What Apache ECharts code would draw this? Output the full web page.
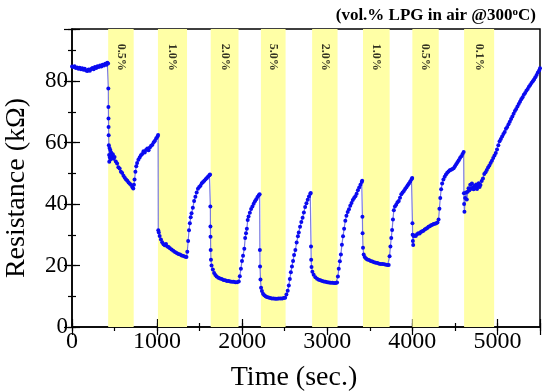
<!DOCTYPE html>
<html>
<head>
<meta charset="utf-8">
<script src="https://cdn.jsdelivr.net/npm/echarts@6/dist/echarts.min.js"></script>
<style>html,body{margin:0;padding:0;background:#fff}#c{width:545px;height:392px}</style>
</head>
<body>
<div id="c"></div>
<script>
// ---- data ----
const bandStart = [425, 1010, 1630, 2220, 2822, 3420, 4000, 4608];
const bandEnd   = [725, 1352, 1957, 2510, 3121, 3733, 4310, 4961];
const bandLabels = ['0.5%', '1.0%', '2.0%', '5.0%', '2.0%', '1.0%', '0.5%', '0.1%'];
const xTicks = [0, 1000, 2000, 3000, 4000, 5000];
const yTicks = [0, 20, 40, 60, 80];

const timeSec = [
0,15,30,45,60,75,90,105,120,135,150,165,180,195,210,225,240,255,270,285,300,315,330,345,360,375,390,405,415,424,
427,428,429,430,431,433,436,438,441,445,450,455,460,470,480,490,500,515,530,545,560,575,590,605,620,635,650,665,680,695,710,720,
728,735,745,755,765,780,795,810,825,840,855,870,885,900,915,930,945,960,975,990,1005,1012,
1014,1020,1030,1045,1060,1075,1090,1105,1120,1135,1150,1170,1190,1210,1230,1250,1270,1290,1310,1330,1345,
1355,1365,1375,1385,1395,1405,1420,1435,1450,1465,1480,1495,1510,1525,1540,1555,1570,1585,1600,1615,1622,
1626,1627,1628,1630,1633,1640,1655,1670,1685,1700,1720,1740,1760,1780,1800,1820,1840,1860,1880,1900,1920,1940,1960,
1972,1985,1998,2010,2025,2035,2045,2055,2065,2075,2090,2105,2120,2135,2150,2165,2180,2195,2205,
2208,2210,2215,2222,2232,2245,2260,2275,2290,2310,2330,2350,2370,2390,2410,2430,2450,2470,2490,2505,
2520,2535,2548,2560,2572,2585,2598,2610,2625,2640,2655,2665,2680,2695,2710,2725,2740,2755,2770,2785,2800,2806,
2809,2811,2815,2825,2840,2860,2880,2900,2920,2940,2960,2980,3000,3020,3040,3060,3080,3100,3115,
3125,3135,3148,3160,3172,3185,3198,3212,3225,3240,3255,3270,3285,3300,3315,3330,3345,3360,3375,3390,3405,3410,
3413,3415,3420,3428,3440,3455,3470,3490,3510,3530,3550,3570,3590,3610,3630,3650,3670,3690,3710,3722,
3732,3742,3752,3762,3772,3782,3795,3810,3825,3840,3855,3870,3885,3900,3915,3930,3945,3960,3975,3990,3998,
4001,4003,4006,4010,4015,4025,4040,4055,4070,4085,4100,4115,4130,4145,4160,4175,4190,4205,4220,4235,4250,4265,4280,4295,
4308,4318,4328,4338,4350,4365,4380,4395,4410,4425,4440,4455,4470,4485,4500,4515,4530,4545,4560,4575,4590,4603,
4606,4608,4612,4620,4630,4640,4650,4660,4670,4680,4690,4700,4710,4720,4730,4740,4750,4760,4770,4780,4790,4800,
4815,4830,4845,4860,4875,4890,4905,4920,4935,4950,4965,4980,4995,5010,5025,5040,5055,5070,5085,5100,5115,5130,5145,5160,
5175,5190,5205,5220,5235,5250,5265,5280,5295,5310,5325,5340,5355,5370,5385,5400,5415,5430,5445,5460,5475,5490,5500
];
const resistance = [
84.8,84.6,84.9,84.3,84.5,84.1,84.4,83.9,84.2,83.7,84.1,83.5,83.3,83.8,83.4,84.0,84.3,83.9,84.6,84.3,84.9,84.6,85.1,84.8,85.4,85.1,85.7,85.4,86.0,85.8,
77.6,71.6,67.9,65.1,62.4,59.2,56.0,53.8,58.3,55.2,57.6,54.6,56.8,55.5,56.2,54.8,55.3,53.9,53.2,52.0,51.6,50.5,50.1,49.2,48.6,48.0,47.6,47.0,46.6,46.2,45.5,45.1,
46.3,48.0,50.5,52.3,53.4,54.4,55.2,55.9,56.3,57.2,56.8,57.6,58.1,57.5,58.4,59.0,59.3,60.1,60.6,61.4,62.0,62.5,
31.5,30.8,29.6,28.5,27.6,26.9,26.6,27.0,26.2,26.0,25.6,25.2,24.8,24.4,24.1,23.8,23.6,23.3,23.1,22.9,22.8,
24.5,28.0,31.5,33.8,35.7,37.0,38.8,41.0,42.4,43.8,45.0,45.6,46.0,46.8,47.2,47.6,48.1,48.5,49.0,49.4,49.6,
39.2,32.7,29.4,25.1,21.9,20.0,18.7,17.6,16.9,16.4,16.0,15.8,15.6,15.3,15.2,15.0,15.0,14.8,14.7,14.7,14.6,14.6,14.8,
16.5,19.0,21.5,23.2,25.5,29.0,30.5,32.0,34.8,36.0,37.2,38.4,39.2,40.1,40.9,41.6,42.3,42.9,43.2,
25.1,19.7,15.5,12.8,11.7,10.8,10.3,10.0,9.8,9.6,9.4,9.3,9.3,9.2,9.2,9.3,9.3,9.3,9.4,9.5,
10.6,11.8,13.5,15.6,17.8,19.7,21.5,23.4,25.1,27.5,29.5,30.8,32.6,34.2,35.6,37.3,39.1,40.3,41.4,42.5,43.4,43.6,
26.2,21.9,19.5,18.0,17.0,16.2,15.7,15.4,15.2,15.0,14.8,14.7,14.6,14.5,14.4,14.4,14.3,14.3,14.5,
16.4,19.0,21.4,23.6,26.8,29.5,32.0,34.6,36.2,37.4,38.3,39.5,40.4,41.3,42.0,42.6,43.4,44.5,45.4,46.3,47.2,47.6,
35.9,30.5,25.8,23.6,22.8,22.3,22.0,21.8,21.5,21.3,21.1,20.9,20.8,20.6,20.5,20.5,20.4,20.3,20.2,20.2,
23.0,26.2,29.0,31.6,35.0,38.0,39.2,39.8,40.6,41.0,42.1,43.2,43.8,44.3,44.9,45.5,46.1,46.7,47.4,48.1,48.5,
33.8,30.0,28.0,26.7,29.6,29.8,29.6,30.2,30.5,30.4,30.9,31.2,31.3,31.7,32.0,32.2,32.6,32.8,33.1,33.3,33.5,33.6,33.8,34.0,
35.0,38.5,42.0,44.8,46.7,48.0,48.9,49.6,50.2,50.6,51.0,51.2,51.4,51.7,52.3,53.0,53.6,54.3,55.0,55.6,56.3,57.0,
43.5,40.0,37.5,42.0,43.8,41.5,44.0,45.2,44.5,46.3,45.0,46.7,45.3,44.8,46.0,45.2,46.4,44.9,45.8,46.8,45.6,46.2,
47.5,48.3,49.8,50.4,51.1,51.9,52.6,53.4,54.1,55.0,55.8,56.6,57.8,59.2,60.5,61.2,62.0,62.8,63.5,64.5,65.1,66.0,66.8,67.7,
68.5,69.4,70.3,71.0,71.8,72.6,73.3,74.1,74.8,75.6,76.2,76.9,77.5,78.2,78.8,79.4,80.0,80.6,81.3,82.0,82.8,83.5,84.2
];

// ---- chart ----
const X_MIN = 0, X_MAX = 5500, Y_MIN = 0, Y_MAX = 97;
const FONT = 'Liberation Serif';
const chart = echarts.init(document.getElementById('c'), null, {renderer: 'canvas'});

const pts = timeSec.map((t, i) => [t, resistance[i]]);
const bandAreas = bandStart.map((s, i) => [{xAxis: s}, {xAxis: bandEnd[i]}]);
const labelPts = bandStart.map((s, i) => ({value: [(s + bandEnd[i]) / 2, 86.8], name: bandLabels[i]}));

const lineStyle = {color: '#000', width: 1.5};
function xAx(pos, interval, len, opts) {
  return Object.assign({
    type: 'value', position: pos, min: X_MIN, max: X_MAX, interval: interval,
    axisLine: {show: false}, splitLine: {show: false},
    axisTick: {show: true, inside: true, length: len, lineStyle: {color: '#000', width: 1.2}},
    axisLabel: {show: false}
  }, opts || {});
}
function yAx(pos, interval, len, opts) {
  return Object.assign({
    type: 'value', position: pos, min: Y_MIN, max: Y_MAX, interval: interval,
    axisLine: {show: false}, splitLine: {show: false},
    axisTick: {show: true, inside: true, length: len, lineStyle: {color: '#000', width: 1.2}},
    axisLabel: {show: false}
  }, opts || {});
}

chart.setOption({
  backgroundColor: '#fff',
  animation: false,
  title: {
    text: '{a|(vol.% LPG in air @300}{s|o}{a|C)}',
    right: 4, top: 2,
    textStyle: {
      rich: {
        a: {fontFamily: FONT, fontWeight: 'bold', fontSize: 17, color: '#000'},
        s: {fontFamily: FONT, fontWeight: 'bold', fontSize: 11, color: '#000', verticalAlign: 'top', padding: [0, 0, 7, 0]}
      }
    }
  },
  grid: {left: 72, right: 5, top: 29, bottom: 65, containLabel: false, outerBoundsMode: 'none',
    show: true, borderColor: '#000', borderWidth: 1.5, backgroundColor: 'transparent'},
  xAxis: [
    xAx('bottom', 1000, 8, {
      axisLine: {show: true, onZero: false, lineStyle: lineStyle},
      axisLabel: {show: true, fontFamily: FONT, fontSize: 24, color: '#000', margin: 3,
        formatter: v => (xTicks.indexOf(v) >= 0 ? String(v) : '')},
      name: 'Time (sec.)', nameLocation: 'middle', nameGap: 37,
      nameTextStyle: {fontFamily: FONT, fontSize: 28, color: '#000', padding: [0, 24, 0, 0]}
    }),
    xAx('bottom', 500, 4),
    xAx('top', 1000, 8),
    xAx('top', 500, 4)
  ],
  yAxis: [
    yAx('left', 20, 8, {
      axisLine: {show: true, onZero: false, lineStyle: lineStyle},
      axisLabel: {show: true, fontFamily: FONT, fontSize: 23, color: '#000', margin: 4,
        formatter: v => (yTicks.indexOf(v) >= 0 ? String(v) : '')},
      name: 'Resistance (kΩ)', nameLocation: 'middle', nameGap: 41,
      nameTextStyle: {fontFamily: FONT, fontSize: 28, color: '#000', padding: [0, 20, 0, 0]}
    }),
    yAx('left', 10, 4),
    yAx('right', 20, 8),
    yAx('right', 10, 4)
  ],
  series: [
    {
      type: 'line', xAxisIndex: 0, yAxisIndex: 0, data: pts,
      symbol: 'circle', symbolSize: 4, showAllSymbol: true,
      itemStyle: {color: '#0a0af0'},
      lineStyle: {color: '#7a7ae0', width: 1.2},
      z: 3,
      markArea: {
        silent: true,
        itemStyle: {color: '#ffffa6'},
        data: bandAreas
      }
    },
    {
      type: 'scatter', xAxisIndex: 0, yAxisIndex: 0, data: labelPts,
      symbolSize: 0, silent: true, z: 4,
      label: {
        show: true, formatter: p => p.name, rotate: -90, position: 'inside',
        offset: [-3, 0],
        fontFamily: FONT, fontWeight: 'bold', fontSize: 12, color: '#000'
      }
    }
  ]
});
</script>
</body>
</html>
